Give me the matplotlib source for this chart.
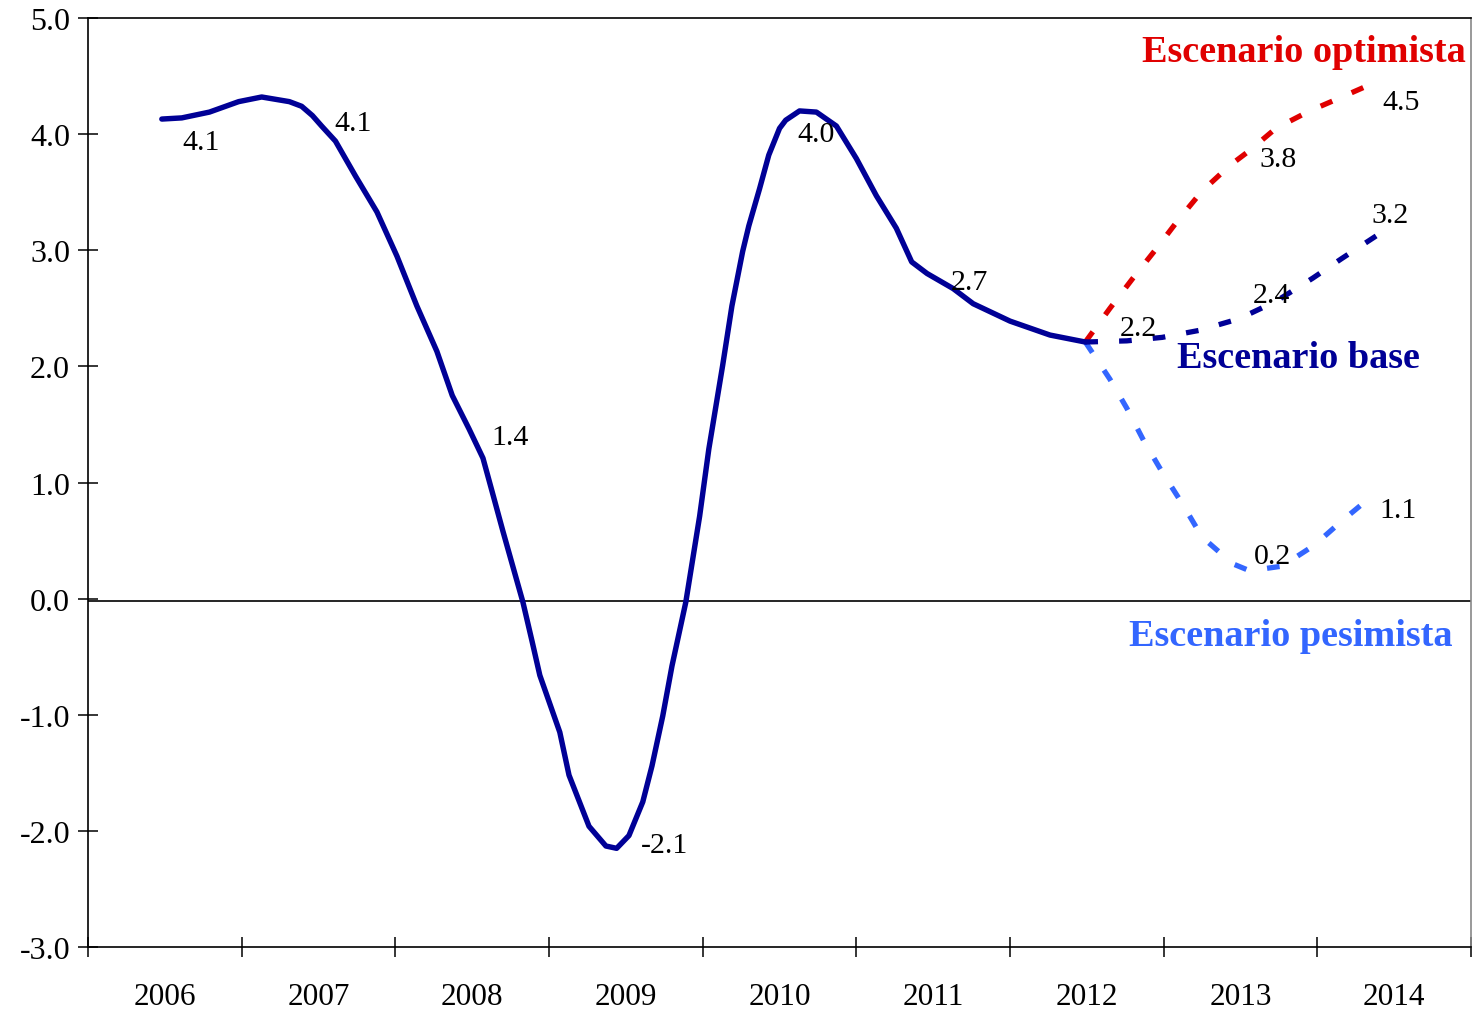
import matplotlib.pyplot as plt
from matplotlib.ticker import FormatStrFormatter, FixedLocator

# Serie historica (posicion en años fraccionarios)
hist_t = [2005.98, 2006.11, 2006.29, 2006.48, 2006.63, 2006.81, 2006.89, 2006.96, 2007.02,
          2007.11, 2007.24, 2007.38, 2007.51, 2007.64, 2007.77, 2007.87, 2007.98,
          2008.07, 2008.13, 2008.20, 2008.33, 2008.39, 2008.44, 2008.57, 2008.63,
          2008.76, 2008.87, 2008.94, 2009.02, 2009.11, 2009.17, 2009.24, 2009.30,
          2009.39, 2009.48, 2009.54, 2009.63, 2009.69, 2009.76, 2009.80, 2009.87,
          2009.93, 2010.00, 2010.04, 2010.13, 2010.24, 2010.37, 2010.50, 2010.63,
          2010.76, 2010.86, 2010.96, 2011.13, 2011.26, 2011.50, 2011.76, 2011.99]
hist_v = [4.13, 4.14, 4.19, 4.28, 4.32, 4.28, 4.24, 4.16, 4.07,
          3.94, 3.64, 3.33, 2.95, 2.52, 2.13, 1.75, 1.46,
          1.21, 0.92, 0.58, -0.03, -0.37, -0.66, -1.15, -1.52,
          -1.96, -2.13, -2.15, -2.04, -1.75, -1.44, -1.01, -0.58,
          -0.03, 0.71, 1.29, 2.01, 2.52, 2.99, 3.21, 3.53,
          3.82, 4.05, 4.12, 4.20, 4.19, 4.07, 3.79, 3.47,
          3.19, 2.90, 2.80, 2.67, 2.54, 2.39, 2.27, 2.21]

# Escenarios
opt_t = [2011.99, 2012.15, 2012.30, 2012.45, 2012.60, 2012.75, 2012.93, 2013.06,
         2013.23, 2013.45, 2013.66, 2013.90]
opt_v = [2.21, 2.50, 2.76, 3.01, 3.27, 3.51, 3.73, 3.86, 4.05, 4.20, 4.32, 4.46]

base_t = [2011.99, 2012.26, 2012.49, 2012.73, 2012.99, 2013.23, 2013.47, 2013.66, 2013.89]
base_v = [2.21, 2.22, 2.25, 2.31, 2.41, 2.56, 2.76, 2.93, 3.13]

pes_t = [2011.99, 2012.15, 2012.26, 2012.37, 2012.49, 2012.62, 2012.75, 2012.95,
         2013.06, 2013.27, 2013.48, 2013.66, 2013.87]
pes_v = [2.21, 1.89, 1.64, 1.36, 1.09, 0.82, 0.53, 0.30, 0.24, 0.28, 0.46, 0.67, 0.90]

years = [2006, 2007, 2008, 2009, 2010, 2011, 2012, 2013, 2014]

# Etiquetas de datos anuales
hist_lab_years = [2006, 2007, 2008, 2009, 2010, 2011, 2012]
hist_lab_vals = [4.1, 4.1, 1.4, -2.1, 4.0, 2.7, 2.2]
opt_lab_years = [2013, 2014]
opt_lab_vals = [3.8, 4.5]
base_lab_years = [2013, 2014]
base_lab_vals = [2.4, 3.2]
pes_lab_years = [2013, 2014]
pes_lab_vals = [0.2, 1.1]

NAVY = '#000096'
RED = '#E00000'
LIGHT = '#3366FF'

plt.rcParams['font.family'] = ['Liberation Serif', 'DejaVu Serif']

fig = plt.figure(figsize=(14.75, 10.12), dpi=100)
ax = fig.add_axes([0.0597, 0.0632, 0.9376, 0.918])

ax.axhline(-0.02, color='black', linewidth=1.2, zorder=1)

ax.plot(opt_t, opt_v, color=RED, linewidth=3.8, dashes=(2.4, 4.0), zorder=2)
ax.plot(pes_t, pes_v, color=LIGHT, linewidth=3.8, dashes=(2.4, 4.0), zorder=2)
ax.plot(base_t, base_v, color=NAVY, linewidth=3.8, dashes=(2.4, 4.0), zorder=3)
ax.plot(hist_t, hist_v, color=NAVY, linewidth=3.9, solid_capstyle='round',
        solid_joinstyle='round', zorder=4)

# desplazamientos de las etiquetas (puntos)
hist_off = [(26, -14), (25, 0), (27, -1), (28, -2), (26, 0), (26, 2), (37, 11)]
opt_off = [(27, -1), (5, -19)]
base_off = [(22, 18), (-3, 9)]
pes_off = [(23, 14), (3, -28)]

for yrs, vals, offs in [(hist_lab_years, hist_lab_vals, hist_off),
                        (opt_lab_years, opt_lab_vals, opt_off),
                        (base_lab_years, base_lab_vals, base_off),
                        (pes_lab_years, pes_lab_vals, pes_off)]:
    for yr, v, off in zip(yrs, vals, offs):
        ax.annotate(f'{v:.1f}', xy=(yr, v), xytext=off, textcoords='offset points',
                    ha='center', va='center', fontsize=21.5, zorder=5)

ax.text(2013.41, 4.71, 'Escenario optimista', color=RED, fontsize=27.5,
        fontweight='bold', ha='center', va='center')
ax.text(2013.38, 2.08, 'Escenario base', color=NAVY, fontsize=27.5,
        fontweight='bold', ha='center', va='center')
ax.text(2013.33, -0.32, 'Escenario pesimista', color=LIGHT, fontsize=27.5,
        fontweight='bold', ha='center', va='center')

ax.set_xlim(2005.5, 2014.5)
ax.set_ylim(-3, 5)
ax.set_yticks(range(-3, 6))
ax.yaxis.set_major_formatter(FormatStrFormatter('%.1f'))
ax.tick_params(axis='y', direction='inout', length=14, width=1.1, labelsize=23, pad=6)

ax.xaxis.set_major_locator(FixedLocator([y - 0.5 for y in years] + [2014.5]))
ax.xaxis.set_minor_locator(FixedLocator(years))
ax.xaxis.set_minor_formatter(FormatStrFormatter('%d'))
ax.tick_params(axis='x', which='major', direction='inout', length=14, width=1.1,
               labelbottom=False)
ax.tick_params(axis='x', which='minor', length=0, labelsize=22.5, pad=25)

for s in ax.spines.values():
    s.set_linewidth(1.2)
ax.spines['right'].set_color('#888888')

fig.savefig('out.png', dpi=100)
